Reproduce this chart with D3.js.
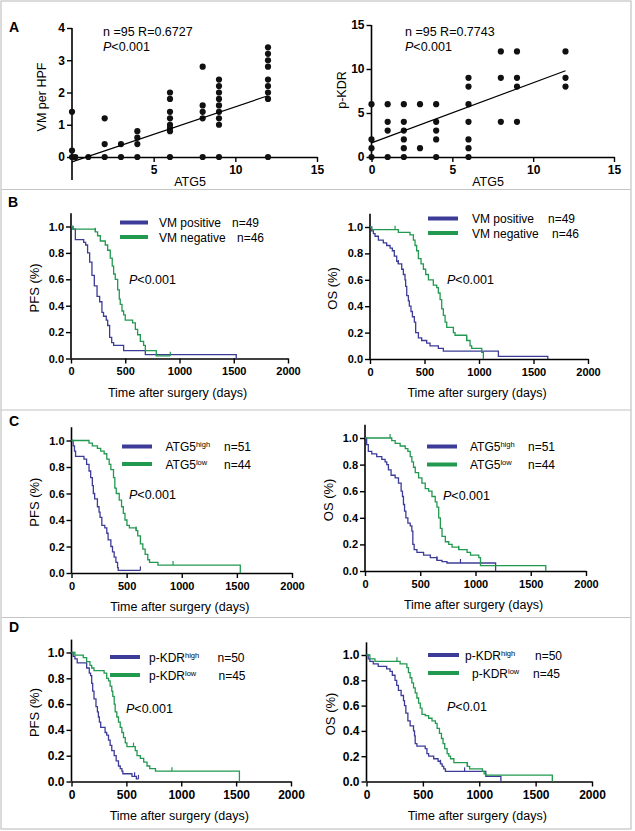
<!DOCTYPE html>
<html>
  <head>
    <meta charset="utf-8">
    <title>ATG5, VM and p-KDR survival</title>
    <script src="https://cdn.jsdelivr.net/npm/d3@7"></script>
    <style>
      body { margin: 0; background: #fff; }
      svg { display: block; }
      svg text { font-family: Arial, "Liberation Sans", sans-serif; }
      .tick text { font-weight: bold; font-size: 11px; }
      .narrow .tick text { font-family: "Liberation Sans Narrow", Arial, "Liberation Sans", sans-serif; font-size: 12px; }
    </style>
  </head>
  <body>
    <svg id="fig" width="635" height="831"></svg>

    <script>
      // scatter data, panel A: [ATG5, value]
      vmPoints = [
        [0, 1.4], [0, 0.2], [0, 0], [0.2, 0], [1, 0],
        [2, 1.2], [2, 0.4], [2, 0], [3, 0.4], [3, 0],
        [4, 0.8], [4, 0.6], [4, 0.4], [4, 0],
        [6, 2.0], [6, 1.8], [6, 1.4], [6, 1.2], [6, 1.0], [6, 0.9], [6, 0.8], [6, 0],
        [8, 2.8], [8, 1.6], [8, 1.4], [8, 1.2], [8, 0],
        [9, 2.4], [9, 2.2], [9, 2.0], [9, 1.8], [9, 1.6], [9, 1.4], [9, 1.2], [9, 1.0], [9, 0],
        [12, 3.4], [12, 3.2], [12, 3.0], [12, 2.8], [12, 2.4], [12, 2.2], [12, 2.0], [12, 1.8], [12, 0]
      ];
      kdrPoints = [
        [0, 6], [0, 2], [0, 1], [0, 0],
        [1, 6], [1, 4], [1, 3], [1, 0],
        [2, 6], [2, 4], [2, 3], [2, 2], [2, 1], [2, 0],
        [3, 6], [3, 1],
        [4, 6], [4, 4], [4, 3], [4, 2], [4, 0],
        [6, 9], [6, 8], [6, 6], [6, 4], [6, 2], [6, 1], [6, 0],
        [8, 12], [8, 9], [8, 4],
        [9, 12], [9, 9], [9, 8], [9, 4],
        [12, 12], [12, 9], [12, 8]
      ];
      vmFit = [[0, -0.15], [12, 1.9]];
      kdrFit = [[0, 1.6], [12, 9.8]];

      // Kaplan-Meier curves: [days, survival after that day]
      bPfsPos = [[0,1],[18,0.98],[40,0.90],[117,0.88],[135,0.86],[153,0.80],[172,0.73],[193,0.63],[215,0.55],[240,0.47],[264,0.43],[285,0.35],[300,0.32],[325,0.29],[338,0.25],[356,0.16],[375,0.12],[393,0.10],[485,0.06],[685,0.03],[1523,0]];
      bPfsNeg = [[0,1],[18,0.98],[224,0.96],[245,0.93],[270,0.89],[316,0.86],[338,0.82],[362,0.76],[380,0.70],[393,0.64],[408,0.60],[430,0.52],[445,0.45],[454,0.41],[470,0.36],[485,0.33],[500,0.29],[568,0.27],[593,0.22],[614,0.18],[639,0.13],[669,0.10],[685,0.06],[786,0.02],[915,0.02]];
      bOsPos = [[0,1],[15,0.97],[31,0.95],[46,0.93],[77,0.90],[122,0.88],[153,0.86],[184,0.84],[205,0.82],[223,0.78],[245,0.74],[260,0.72],[291,0.68],[306,0.64],[321,0.60],[327,0.55],[337,0.48],[352,0.44],[361,0.40],[376,0.36],[389,0.32],[407,0.28],[419,0.20],[444,0.16],[474,0.14],[520,0.12],[551,0.10],[627,0.08],[673,0.06],[1178,0.02],[1631,0]];
      bOsNeg = [[0,1],[15,0.98],[260,0.96],[367,0.94],[398,0.90],[413,0.86],[428,0.82],[444,0.76],[468,0.72],[490,0.68],[511,0.64],[536,0.60],[581,0.56],[612,0.54],[627,0.50],[643,0.45],[658,0.38],[673,0.33],[689,0.28],[704,0.24],[765,0.20],[780,0.18],[887,0.14],[918,0.10],[933,0.08],[1025,0.05],[1040,0]];
      cPfsHigh = [[0,1],[15,0.96],[27,0.92],[37,0.88],[113,0.86],[137,0.82],[159,0.77],[174,0.72],[189,0.66],[198,0.60],[210,0.56],[235,0.50],[250,0.46],[259,0.42],[275,0.36],[302,0.34],[320,0.30],[332,0.25],[357,0.20],[372,0.16],[387,0.12],[403,0.08],[418,0.04],[424,0.02],[625,0.02]];
      cPfsLow = [[0,1],[159,0.98],[189,0.96],[235,0.94],[265,0.92],[296,0.90],[320,0.86],[342,0.82],[357,0.78],[381,0.72],[393,0.64],[406,0.60],[433,0.55],[454,0.50],[470,0.45],[485,0.40],[503,0.36],[525,0.34],[586,0.32],[601,0.28],[625,0.22],[647,0.18],[668,0.14],[692,0.10],[708,0.08],[784,0.06],[1531,0]];
      cOsHigh = [[0,1],[15,0.95],[30,0.90],[61,0.88],[106,0.86],[152,0.84],[182,0.82],[197,0.80],[212,0.76],[236,0.72],[273,0.70],[303,0.66],[327,0.60],[339,0.56],[348,0.50],[358,0.45],[370,0.40],[388,0.36],[409,0.34],[424,0.30],[433,0.20],[445,0.16],[470,0.14],[530,0.12],[591,0.10],[651,0.08],[697,0.07],[742,0.06],[1182,0]];
      cOsLow = [[0,1],[242,0.98],[273,0.96],[318,0.94],[364,0.92],[388,0.90],[409,0.86],[424,0.82],[439,0.78],[455,0.74],[485,0.70],[515,0.66],[545,0.62],[576,0.60],[606,0.56],[636,0.52],[651,0.48],[667,0.40],[682,0.32],[697,0.26],[727,0.22],[758,0.20],[788,0.18],[848,0.16],[924,0.14],[955,0.12],[1030,0.10],[1045,0.04],[1636,0]];
      dPfsHigh = [[0,1],[15,0.97],[31,0.95],[52,0.92],[138,0.88],[162,0.84],[174,0.82],[184,0.76],[193,0.70],[205,0.64],[223,0.58],[236,0.54],[245,0.50],[254,0.46],[266,0.42],[306,0.38],[321,0.36],[337,0.32],[352,0.28],[367,0.24],[389,0.20],[407,0.16],[428,0.12],[444,0.10],[459,0.08],[468,0.06],[551,0.04],[591,0.02],[610,0.02]];
      dPfsLow = [[0,1],[31,0.98],[107,0.96],[138,0.93],[168,0.90],[184,0.88],[205,0.86],[297,0.84],[321,0.80],[337,0.78],[352,0.74],[367,0.70],[376,0.66],[389,0.60],[398,0.54],[413,0.50],[428,0.46],[444,0.42],[459,0.38],[474,0.34],[490,0.30],[505,0.27],[581,0.24],[597,0.20],[627,0.18],[658,0.15],[688,0.12],[713,0.10],[765,0.08],[1530,0]];
      dOsHigh = [[0,1],[15,0.97],[30,0.95],[60,0.93],[104,0.91],[179,0.89],[209,0.87],[229,0.84],[253,0.80],[268,0.76],[283,0.72],[307,0.68],[328,0.64],[337,0.60],[349,0.54],[367,0.48],[387,0.44],[417,0.40],[426,0.36],[432,0.30],[447,0.28],[521,0.26],[536,0.22],[551,0.20],[596,0.18],[635,0.16],[656,0.14],[671,0.12],[685,0.10],[700,0.08],[1058,0.04],[1192,0]];
      dOsLow = [[0,1],[30,0.97],[75,0.95],[298,0.93],[358,0.90],[372,0.86],[387,0.82],[402,0.78],[417,0.74],[432,0.70],[447,0.66],[462,0.62],[477,0.58],[492,0.53],[521,0.52],[551,0.50],[581,0.48],[611,0.46],[626,0.42],[647,0.38],[665,0.34],[679,0.30],[694,0.26],[715,0.22],[730,0.20],[745,0.18],[775,0.15],[894,0.12],[915,0.10],[1028,0.08],[1043,0.06],[1058,0.05],[1648,0]];

      // censored days
      bPfsPosCens = [];
      bPfsNegCens = [224, 915];
      bOsPosCens = [260];
      bOsNegCens = [230, 887];
      cPfsHighCens = [625];
      cPfsLowCens = [586, 921];
      cOsHighCens = [651, 864];
      cOsLowCens = [227, 848];
      dPfsHighCens = [575, 610];
      dPfsLowCens = [565, 915];
      dOsHighCens = [656, 870];
      dOsLowCens = [270, 894];

      dayTicks = [0, 500, 1000, 1500, 2000];
      survTicks = [0, 0.2, 0.4, 0.6, 0.8, 1.0];

      blue = "#3c3c98";
      green = "#21994f";

      svg = d3.select("#fig");

      // frame and separators
      svg.append("rect")
        .attr("x", 1).attr("y", 1).attr("width", 630).attr("height", 828)
        .attr("fill", "none").attr("stroke", "#c4c4c4").attr("stroke-width", 1.2);
      [189.5, 410, 617.5].forEach(function(y) {
        svg.append("line")
          .attr("x1", 1).attr("x2", 631).attr("y1", y).attr("y2", y)
          .attr("stroke", "#c4c4c4").attr("stroke-width", 1.2);
      });

      // panel letters
      [["A", 9, 32], ["B", 8, 207], ["C", 9, 426], ["D", 9, 632]].forEach(function(d) {
        svg.append("text").text(d[0])
          .attr("x", d[1]).attr("y", d[2])
          .attr("font-weight", "bold").attr("font-size", 14);
      });

      function axisStyle(g) {
        g.attr("font-family", null).attr("font-size", null);
        g.select(".domain").attr("stroke", "#000").attr("stroke-width", 1.6);
        g.selectAll(".tick line").attr("stroke", "#000").attr("stroke-width", 1.4);
      }

      function scatter(o) {
        const g = svg.append("g");
        const x = d3.scaleLinear().domain([0, 15]).range([o.x0, o.x1]);
        const y = d3.scaleLinear().domain([0, o.ymax]).range([o.y0, o.y1]);

        g.append("g")
          .attr("transform", "translate(0," + o.y0 + ")")
          .call(d3.axisBottom(x).tickValues(o.xticks).tickFormat(d3.format("d")).tickSize(5).tickSizeOuter(0).tickPadding(3))
          .call(axisStyle)
          .call(g => g.selectAll(".tick text").style("font-size", "12px"));
        const ya = g.append("g")
          .attr("transform", "translate(" + o.x0 + ",0)")
          .call(d3.axisLeft(y).tickValues(o.yticks).tickFormat(d3.format("d")).tickSize(5).tickSizeOuter(0).tickPadding(2))
          .call(axisStyle)
          .call(g => g.selectAll(".tick text").style("font-size", "12px"));
        // y axis line runs below the x axis on the left panel
        ya.select(".domain").attr("d", "M0," + o.yBottom + "V" + o.y1);

        g.append("g").selectAll("circle")
          .data(o.points)
          .join("circle")
            .attr("cx", d => x(d[0]))
            .attr("cy", d => y(d[1]))
            .attr("r", 3.1)
            .attr("fill", "#111");

        g.append("path")
          .datum(o.fit)
          .attr("d", d3.line().x(d => x(d[0])).y(d => y(d[1])))
          .attr("stroke", "#000").attr("stroke-width", 1.2).attr("fill", "none");

        g.append("text").text(o.ylabel)
          .attr("transform", "translate(" + o.ylx + "," + o.yly + ") rotate(-90)")
          .attr("text-anchor", "middle").attr("font-size", 12.5);
        g.append("text").text("ATG5")
          .attr("x", o.xlx).attr("y", 186)
          .attr("text-anchor", "middle").attr("font-size", 12.5);

        g.append("text").text(o.stat)
          .attr("x", o.tx).attr("y", 36).attr("font-size", 12.5);
        const p = g.append("text").attr("x", o.tx).attr("y", 51).attr("font-size", 12.5);
        p.append("tspan").text("P").attr("font-style", "italic");
        p.append("tspan").text("<0.001");
      }

      scatter({
        x0: 72, x1: 317, y0: 157, y1: 28, ymax: 4, yBottom: 180,
        xticks: [5, 10, 15], yticks: [0, 1, 2, 3, 4],
        points: vmPoints, fit: vmFit,
        ylabel: "VM per HPF", ylx: 46, yly: 97, xlx: 190,
        stat: "n =95 R=0.6727", tx: 103
      });
      scatter({
        x0: 371.5, x1: 614, y0: 157, y1: 25, ymax: 15, yBottom: 157,
        xticks: [0, 5, 10, 15], yticks: [0, 5, 10, 15],
        points: kdrPoints, fit: kdrFit,
        ylabel: "p-KDR", ylx: 346, yly: 90, xlx: 488,
        stat: "n =95 R=0.7743", tx: 405
      });

      function survAt(data, t) {
        let s = 1;
        data.forEach(function(d) { if (d[0] <= t) s = d[1]; });
        return s;
      }

      function km(o) {
        const g = svg.append("g").classed("narrow", !!o.narrow);
        const x = d3.scaleLinear().domain([0, 2000]).range([o.x0, o.x1]);
        const y = d3.scaleLinear().domain([0, 1]).range([o.y0, o.y1]);
        const top = y(1.1);

        g.append("g")
          .attr("transform", "translate(0," + o.y0 + ")")
          .call(d3.axisBottom(x).tickValues(dayTicks).tickFormat(d3.format("d")).tickSize(5).tickSizeOuter(0).tickPadding(4))
          .call(axisStyle);
        const ya = g.append("g")
          .attr("transform", "translate(" + o.x0 + ",0)")
          .call(d3.axisLeft(y).tickValues(survTicks).tickFormat(d3.format(".1f")).tickSize(5).tickSizeOuter(0).tickPadding(2))
          .call(axisStyle);
        ya.select(".domain").attr("d", "M0," + o.y0 + "V" + top);

        const line = d3.line()
          .x(d => x(d[0]))
          .y(d => y(d[1]))
          .curve(d3.curveStepAfter);

        o.curves.forEach(function(c) {
          g.append("path")
            .datum(c.data)
            .attr("d", line)
            .attr("fill", "none")
            .attr("stroke", c.color)
            .attr("stroke-width", 1.3);
          // censor ticks
          g.append("g").selectAll("line")
            .data(c.cens)
            .join("line")
              .attr("x1", d => x(d)).attr("x2", d => x(d))
              .attr("y1", d => y(survAt(c.data, d)))
              .attr("y2", d => y(survAt(c.data, d)) - 4)
              .attr("stroke", c.color).attr("stroke-width", 1.2);
        });

        g.append("text").text(o.ylabel)
          .attr("transform", "translate(" + o.ylx + "," + ((o.y0 + top) / 2 + 2) + ") rotate(-90)")
          .attr("text-anchor", "middle").attr("font-size", 13);
        g.append("text").text("Time after surgery (days)")
          .attr("x", (o.x0 + o.x1) / 2 - 2).attr("y", o.y0 + 38)
          .attr("text-anchor", "middle").attr("font-size", 12.5);

        // legend
        o.legend.forEach(function(l, i) {
          const ly = o.ly[i];
          g.append("line")
            .attr("x1", o.lx0).attr("x2", o.lx1).attr("y1", ly).attr("y2", ly)
            .attr("stroke", o.curves[i].color).attr("stroke-width", 4);
          const t = g.append("text").attr("x", o.tx[i]).attr("y", ly + 4.5).attr("font-size", 12);
          t.append("tspan").text(l[0]);
          if (l[1]) {
            t.append("tspan").text(l[1]).attr("font-size", 7.5).attr("dy", -4);
          }
          g.append("text").text(l[2])
            .attr("x", o.nx[i]).attr("y", ly + 4.5).attr("font-size", 12);
        });

        const p = g.append("text").attr("x", o.px).attr("y", o.py).attr("font-size", 12.5);
        p.append("tspan").text("P").attr("font-style", "italic");
        p.append("tspan").text(o.pText);
      }

      vmLegend = [["VM positive", "", "n=49"], ["VM negative", "", "n=46"]];
      atgLegend = [["ATG5", "high", "n=51"], ["ATG5", "low", "n=44"]];
      kdrLegend = [["p-KDR", "high", "n=50"], ["p-KDR", "low", "n=45"]];

      km({
        x0: 71, x1: 288, y0: 358.5, y1: 226.5, ylabel: "PFS (%)", ylx: 39,
        curves: [{data: bPfsPos, cens: bPfsPosCens, color: blue}, {data: bPfsNeg, cens: bPfsNegCens, color: green}],
        legend: vmLegend, lx0: 120, lx1: 148, ly: [222.5, 237], tx: [159, 159], nx: [232, 237],
        px: 129, py: 283.5, pText: "<0.001"
      });
      km({
        x0: 370, x1: 588, y0: 359, y1: 227, ylabel: "OS (%)", ylx: 337,
        curves: [{data: bOsPos, cens: bOsPosCens, color: blue}, {data: bOsNeg, cens: bOsNegCens, color: green}],
        legend: vmLegend, lx0: 428, lx1: 458, ly: [218.5, 233], tx: [472, 472], nx: [548, 552],
        px: 447, py: 284, pText: "<0.001"
      });
      km({
        x0: 71.5, x1: 292, y0: 573, y1: 440.5, ylabel: "PFS (%)", ylx: 39,
        curves: [{data: cPfsHigh, cens: cPfsHighCens, color: blue}, {data: cPfsLow, cens: cPfsLowCens, color: green}],
        legend: atgLegend, lx0: 122, lx1: 152, ly: [446.5, 464], tx: [165.5, 165.5], nx: [224, 224],
        px: 129, py: 499, pText: "<0.001"
      });
      km({
        x0: 365, x1: 586, y0: 571, y1: 438, ylabel: "OS (%)", ylx: 333,
        curves: [{data: cOsHigh, cens: cOsHighCens, color: blue}, {data: cOsLow, cens: cOsLowCens, color: green}],
        legend: atgLegend, lx0: 427, lx1: 457, ly: [446.5, 464.5], tx: [470, 470], nx: [528, 528],
        px: 443, py: 499.5, pText: "<0.001"
      });
      km({
        x0: 71.5, x1: 291, y0: 781.5, y1: 652.5, ylabel: "PFS (%)", ylx: 39, narrow: true,
        curves: [{data: dPfsHigh, cens: dPfsHighCens, color: blue}, {data: dPfsLow, cens: dPfsLowCens, color: green}],
        legend: kdrLegend, lx0: 110, lx1: 140, ly: [657, 675], tx: [149, 149], nx: [217.5, 218.5],
        px: 126, py: 713, pText: "<0.001"
      });
      km({
        x0: 366.5, x1: 592, y0: 781.5, y1: 655, ylabel: "OS (%)", ylx: 335, narrow: true,
        curves: [{data: dOsHigh, cens: dOsHighCens, color: blue}, {data: dOsLow, cens: dOsLowCens, color: green}],
        legend: kdrLegend, lx0: 428, lx1: 459, ly: [655, 673], tx: [465, 472], nx: [535, 533],
        px: 447, py: 710.5, pText: "<0.01"
      });
    </script>
  </body>
</html>
